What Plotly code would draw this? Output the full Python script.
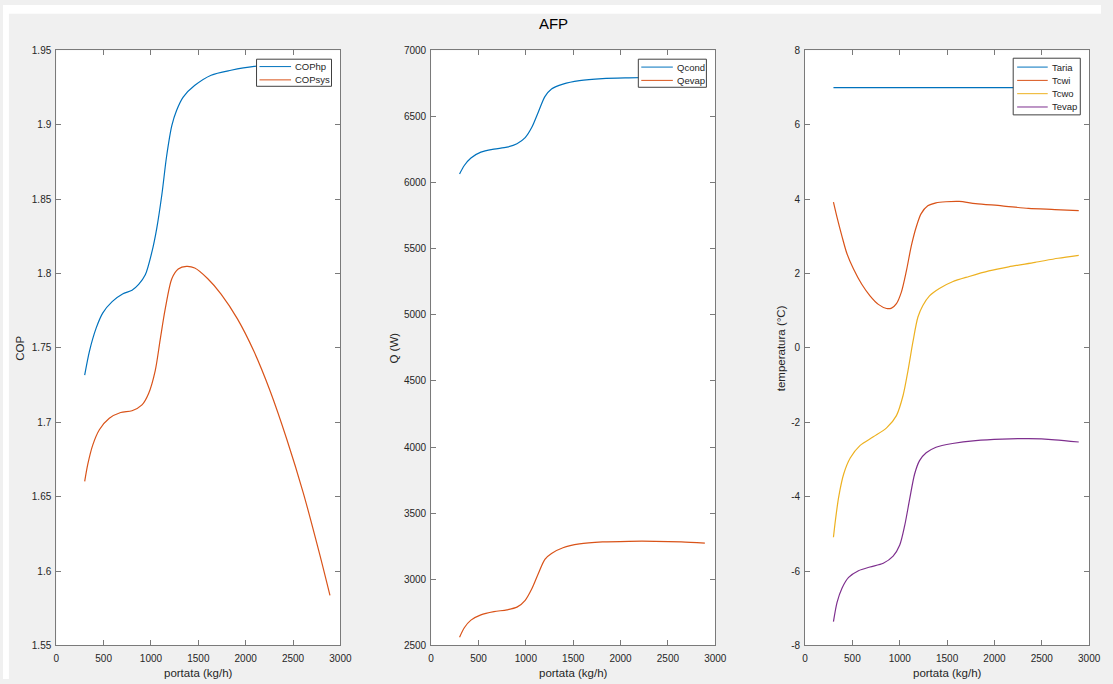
import plotly.graph_objects as go
from plotly.subplots import make_subplots

# ---- data: COP vs flow rate ----
cophp_x = [300, 350, 420, 490, 590, 700, 800, 870, 940, 1010, 1060, 1115, 1165,
           1220, 1270, 1340, 1460, 1635, 1845, 2090, 2400, 2890]
cophp_y = [1.7317, 1.7477, 1.7631, 1.7734, 1.7811, 1.7862, 1.7888, 1.7927, 1.7991,
           1.8145, 1.8300, 1.8531, 1.8788, 1.8994, 1.9096, 1.9186, 1.9263, 1.9333,
           1.9366, 1.9392, 1.9405, 1.9415]

copsys_x = [300, 333, 385, 455, 560, 680, 800, 905, 975, 1045, 1097, 1150, 1220,
            1288, 1375, 1462, 1600, 1740, 1913, 2087, 2260, 2434, 2608, 2781, 2890]
copsys_y = [1.6603, 1.6719, 1.6847, 1.6950, 1.7027, 1.7066, 1.7078, 1.7117, 1.7194,
            1.7348, 1.7554, 1.7760, 1.7965, 1.8030, 1.8048, 1.8037, 1.7965, 1.7862,
            1.7695, 1.7477, 1.7207, 1.6886, 1.6526, 1.6114, 1.5837]

# ---- data: heat flows vs flow rate ----
qcond_x = [300, 350, 420, 525, 663, 800, 906, 993, 1063, 1132, 1201, 1271, 1392,
           1566, 1809, 2087, 2400, 2890]
qcond_y = [6065, 6129, 6186, 6230, 6253, 6268, 6294, 6340, 6418, 6534, 6650, 6708,
           6745, 6771, 6786, 6792, 6796, 6798]

qevap_x = [300, 350, 420, 525, 663, 800, 906, 993, 1063, 1132, 1201, 1271, 1392,
           1566, 1809, 2087, 2365, 2642, 2890]
qevap_y = [2562, 2634, 2692, 2732, 2756, 2770, 2790, 2842, 2929, 3045, 3152, 3196,
           3239, 3268, 3283, 3288, 3288, 3283, 3274]

# ---- data: temperatures vs flow rate ----
taria_x = [300, 2890]
taria_y = [7.0, 7.0]

tcwi_x = [300, 338, 390, 443, 512, 599, 686, 774, 861, 913, 965, 1017, 1070, 1122,
          1174, 1226, 1296, 1383, 1488, 1627, 1801, 2080, 2359, 2638, 2890]
tcwi_y = [3.92, 3.51, 3.00, 2.53, 2.12, 1.71, 1.40, 1.17, 1.06, 1.07, 1.19, 1.50,
          2.07, 2.74, 3.25, 3.61, 3.82, 3.90, 3.93, 3.94, 3.88, 3.82, 3.75, 3.72, 3.69]

tcwo_x = [300, 321, 355, 408, 477, 582, 721, 861, 965, 1035, 1087, 1139, 1192, 1244,
          1314, 1418, 1557, 1732, 1941, 2150, 2429, 2672, 2890]
tcwo_y = [-5.09, -4.63, -4.01, -3.39, -2.96, -2.62, -2.39, -2.15, -1.82, -1.28, -0.61,
          0.16, 0.83, 1.14, 1.40, 1.60, 1.78, 1.92, 2.07, 2.18, 2.30, 2.41, 2.49]

tevap_x = [300, 338, 390, 460, 564, 686, 826, 930, 1000, 1052, 1105, 1157, 1209, 1279,
           1383, 1557, 1801, 2080, 2359, 2638, 2890]
tevap_y = [-7.36, -6.84, -6.46, -6.17, -5.99, -5.89, -5.79, -5.60, -5.30, -4.78, -4.06,
           -3.39, -3.03, -2.82, -2.67, -2.57, -2.49, -2.45, -2.44, -2.47, -2.53]

# ---- labels ----
fig_title = "AFP"
x_title = "portata (kg/h)"
y_titles = ["COP", "Q (W)", "temperatura (°C)"]
x_ticks = [0, 500, 1000, 1500, 2000, 2500, 3000]
x_ticktext = ["0", "500", "1000", "1500", "2000", "2500", "3000"]
y1_ticks = [1.55, 1.6, 1.65, 1.7, 1.75, 1.8, 1.85, 1.9, 1.95]
y1_ticktext = ["1.55", "1.6", "1.65", "1.7", "1.75", "1.8", "1.85", "1.9", "1.95"]
y2_ticks = [2500, 3000, 3500, 4000, 4500, 5000, 5500, 6000, 6500, 7000]
y2_ticktext = ["2500", "3000", "3500", "4000", "4500", "5000", "5500", "6000", "6500", "7000"]
y3_ticks = [-8, -6, -4, -2, 0, 2, 4, 6, 8]
y3_ticktext = ["-8", "-6", "-4", "-2", "0", "2", "4", "6", "8"]

# MATLAB default line colours
C_BLUE, C_ORANGE, C_YELLOW, C_PURPLE = "#0072BD", "#D95319", "#EDB120", "#7E2F8E"

W, H = 1113, 684
FONT = "Liberation Sans, Arial, Helvetica, sans-serif"
TXT = "#262626"
AX = "#7a7a7a"


def px(x):
    return x / W


def py(y):
    return 1 - y / H


fig = make_subplots(rows=1, cols=3)

panels = [
    (1, [("COPhp", cophp_x, cophp_y, C_BLUE), ("COPsys", copsys_x, copsys_y, C_ORANGE)]),
    (2, [("Qcond", qcond_x, qcond_y, C_BLUE), ("Qevap", qevap_x, qevap_y, C_ORANGE)]),
    (3, [("Taria", taria_x, taria_y, C_BLUE), ("Tcwi", tcwi_x, tcwi_y, C_ORANGE),
         ("Tcwo", tcwo_x, tcwo_y, C_YELLOW), ("Tevap", tevap_x, tevap_y, C_PURPLE)]),
]

for col, series in panels:
    for name, xs, ys, c in series:
        fig.add_trace(go.Scatter(x=xs, y=ys, name=name, mode="lines",
                                 line=dict(color=c, width=1.2, shape="spline", smoothing=0.8),
                                 showlegend=False, hoverinfo="x+y+name"),
                      row=1, col=col)

# axis geometry (pixels)
x_doms = [(54, 342), (434, 722), (813, 1101)]
y_top, y_bot = 46, 650
y_specs = [((1.55, 1.95), y1_ticks, y1_ticktext),
           ((2500, 7000), y2_ticks, y2_ticktext),
           ((-8, 8), y3_ticks, y3_ticktext)]
y_title_x = [17, 396, 789]

common = dict(showline=True, linecolor=AX, linewidth=1, mirror="ticks",
              ticks="inside", ticklen=5, tickcolor=AX, tickwidth=1,
              showgrid=False, zeroline=False,
              tickfont=dict(family=FONT, size=10, color=TXT))

annotations = []
for i in range(3):
    xa = "xaxis" if i == 0 else f"xaxis{i+1}"
    ya = "yaxis" if i == 0 else f"yaxis{i+1}"
    rng, tv, tt = y_specs[i]
    fig.update_layout(**{
        xa: dict(domain=[px(x_doms[i][0]), px(x_doms[i][1])], range=[0, 3000],
                 tickvals=x_ticks, ticktext=x_ticktext, ticklabelstandoff=4,
                 **common),
        ya: dict(domain=[py(y_bot), py(y_top)], range=list(rng),
                 tickvals=tv, ticktext=tt, ticklabelstandoff=2,
                 **common),
    })
    # axis titles; the x title sits on the bottom edge of the canvas
    annotations.append(dict(text=x_title, xref="paper", yref="paper",
                            x=px((x_doms[i][0] + x_doms[i][1]) / 2), y=0, yshift=-1,
                            xanchor="center", yanchor="bottom", showarrow=False,
                            borderpad=0,
                            font=dict(family=FONT, size=11.5, color=TXT)))
    annotations.append(dict(text=y_titles[i], xref="paper", yref="paper",
                            x=px(y_title_x[i]), y=py((y_top + y_bot) / 2),
                            xanchor="center", yanchor="middle", showarrow=False,
                            textangle=-90,
                            font=dict(family=FONT, size=11.5, color=TXT)))

# legends drawn as boxed entries in the upper right of each panel
legend_boxes = [
    # (box left, box right, box top, line x0, line x1, text x, first row y)
    (257, 333, 55, 260, 292, 294, 62.5),
    (644, 713, 55, 647, 679, 681, 63),
    (1024, 1092, 54, 1028, 1059, 1061, 63),
]
shapes = [
    # white strips along the top and left edges of the canvas
    dict(type="rect", xref="paper", yref="paper", x0=0, x1=1, y0=py(9), y1=1,
         fillcolor="white", line=dict(width=0), layer="below"),
    dict(type="rect", xref="paper", yref="paper", x0=0, x1=px(6), y0=0, y1=1,
         fillcolor="white", line=dict(width=0), layer="below"),
]
ROW = 13.5
for (col, series), (bl, br, bt, lx0, lx1, tx, ry) in zip(panels, legend_boxes):
    n = len(series)
    bb = bt + 2 * (ry - bt) + (n - 1) * ROW - 1
    shapes.append(dict(type="rect", xref="paper", yref="paper",
                       x0=px(bl), x1=px(br), y0=py(bb), y1=py(bt),
                       fillcolor="white", line=dict(color="#404040", width=1),
                       layer="above"))
    for k, (name, xs, ys, c) in enumerate(series):
        yy = ry + k * ROW
        shapes.append(dict(type="line", xref="paper", yref="paper",
                           x0=px(lx0), x1=px(lx1), y0=py(yy), y1=py(yy),
                           line=dict(color=c, width=1), layer="above"))
        annotations.append(dict(text=name, xref="paper", yref="paper",
                                x=px(tx), y=py(yy), xanchor="left", yanchor="middle",
                                showarrow=False,
                                font=dict(family=FONT, size=9.5, color=TXT)))

fig.update_layout(
    width=W, height=H,
    margin=dict(l=0, r=0, t=0, b=0),
    paper_bgcolor="#f0f0f0", plot_bgcolor="white",
    title=dict(text=fig_title, x=553.5 / W, xanchor="center",
               y=py(24), yanchor="middle",
               font=dict(family=FONT, size=15, color="#000000")),
    shapes=shapes, annotations=annotations,
    showlegend=False,
)

fig.write_html("out.html")
